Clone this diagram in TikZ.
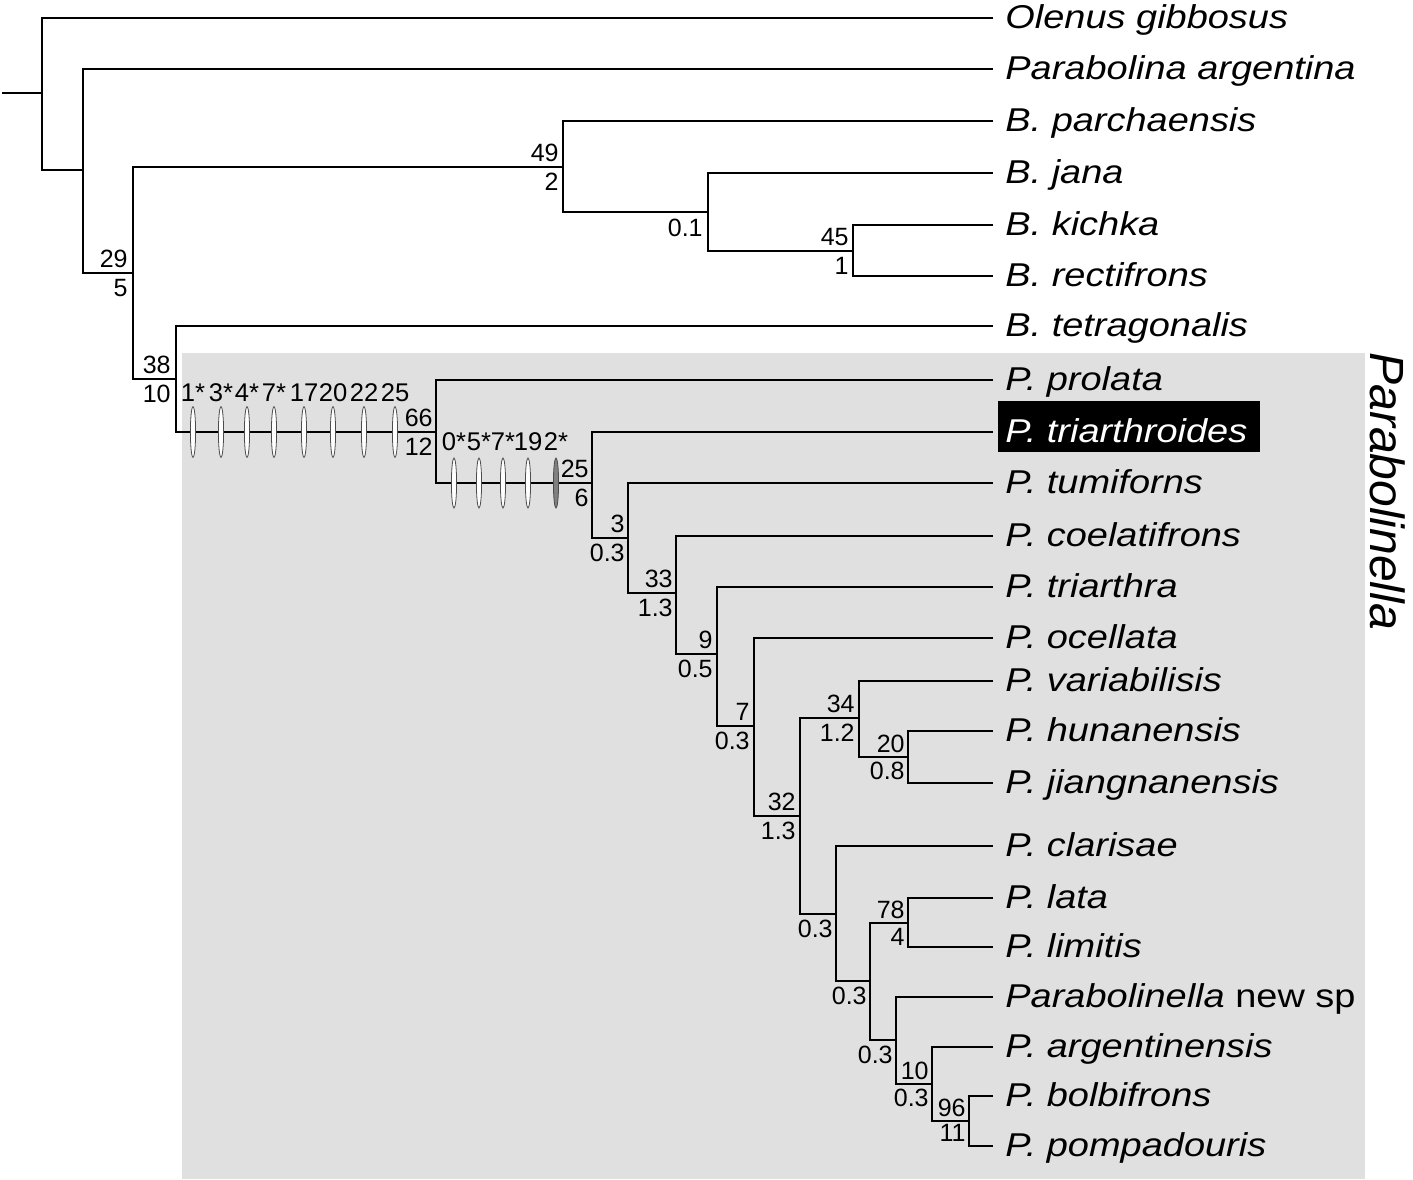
\documentclass[tikz,border=0pt]{standalone}
\usepackage{fontspec}
\setmainfont{Liberation Sans}
\newfontfamily\taxfont[FakeStretch=1.15]{Liberation Sans}
\usetikzlibrary{calc}

\definecolor{cladegray}{RGB}{224,224,224}
\tikzset{
  branch/.style={line width=1pt},
  taxon/.style={anchor=base west, inner sep=0pt, font=\taxfont\fontsize{16.5}{19}\selectfont\itshape},
  supa/.style={anchor=south east, inner sep=0pt, font=\fontsize{12.5}{14}\selectfont},
  supb/.style={anchor=north east, inner sep=0pt, font=\fontsize{12.5}{14}\selectfont},
  charmark/.style={draw=black!70, line width=0.4pt, fill=white},
  charlab/.style={anchor=base, inner sep=0pt, font=\fontsize{12.8}{14}\selectfont},
}

\begin{document}
\begin{tikzpicture}[x=0.5pt,y=-0.5pt]
	\useasboundingbox (0,0) rectangle (1413,1179);
	
	% Parabolinella clade box
	\fill[cladegray] (182,353) rectangle (1365,1179);
	\node[rotate=-90, anchor=base west, inner sep=0pt, font=\fontsize{24}{28}\selectfont\itshape] (clade) at (1370,352) {Parabolinella};
	
	% Internal nodes
	\coordinate (base) at (2,93);
	\coordinate (root) at (42,93);
	\coordinate (nA) at (83,170);
	\coordinate (nB) at (133,273);
	\coordinate (nC) at (563,167);
	\coordinate (nE) at (708,212);
	\coordinate (nF) at (853,251);
	\coordinate (nD) at (176,379);
	\coordinate (nG) at (436,432);
	\coordinate (nH) at (592,483);
	\coordinate (nI) at (628,538);
	\coordinate (nJ) at (676,593);
	\coordinate (nK) at (717,654);
	\coordinate (nL) at (754,726);
	\coordinate (nM) at (800,816);
	\coordinate (nN) at (859,718);
	\coordinate (nO) at (908,757);
	\coordinate (nP) at (836,914);
	\coordinate (nQ) at (870,981);
	\coordinate (nR) at (908,923);
	\coordinate (nS) at (896,1040);
	\coordinate (nT) at (932,1084);
	\coordinate (nU) at (969,1121);
	
	% Tips
	\coordinate (olenus) at (993,18);
	\coordinate (parabolina) at (993,69);
	\coordinate (parchaensis) at (993,121);
	\coordinate (jana) at (993,173);
	\coordinate (kichka) at (993,225);
	\coordinate (rectifrons) at (993,276);
	\coordinate (tetragonalis) at (993,326);
	\coordinate (prolata) at (993,380);
	\coordinate (triarthroides) at (993,432);
	\coordinate (tumiforns) at (993,483);
	\coordinate (coelatifrons) at (993,536);
	\coordinate (triarthra) at (993,587);
	\coordinate (ocellata) at (993,638);
	\coordinate (variabilisis) at (993,681);
	\coordinate (hunanensis) at (993,731);
	\coordinate (jiangnanensis) at (993,783);
	\coordinate (clarisae) at (993,846);
	\coordinate (lata) at (993,898);
	\coordinate (limitis) at (993,947);
	\coordinate (newsp) at (993,997);
	\coordinate (argentinensis) at (993,1047);
	\coordinate (bolbifrons) at (993,1096);
	\coordinate (pompadouris) at (993,1146);
	
	% Taxon names
	\node[taxon] (olenus-l) at (1005,28) {Olenus gibbosus};
	\node[taxon] (parabolina-l) at (1005,79) {Parabolina argentina};
	\node[taxon] (parchaensis-l) at (1005,131) {B. parchaensis};
	\node[taxon] (jana-l) at (1005,183) {B. jana};
	\node[taxon] (kichka-l) at (1005,235) {B. kichka};
	\node[taxon] (rectifrons-l) at (1005,286) {B. rectifrons};
	\node[taxon] (tetragonalis-l) at (1005,336) {B. tetragonalis};
	\node[taxon] (prolata-l) at (1005,390) {P. prolata};
	\node[taxon, fill=black, text=white, inner xsep=3.5pt, inner ysep=0pt, text height=20.5pt, text depth=5pt] (triarthroides-l) at (998,442) {P. triarthroides\kern3pt};
	\node[taxon] (tumiforns-l) at (1005,493) {P. tumiforns};
	\node[taxon] (coelatifrons-l) at (1005,546) {P. coelatifrons};
	\node[taxon] (triarthra-l) at (1005,597) {P. triarthra};
	\node[taxon] (ocellata-l) at (1005,648) {P. ocellata};
	\node[taxon] (variabilisis-l) at (1005,691) {P. variabilisis};
	\node[taxon] (hunanensis-l) at (1005,741) {P. hunanensis};
	\node[taxon] (jiangnanensis-l) at (1005,793) {P. jiangnanensis};
	\node[taxon] (clarisae-l) at (1005,856) {P. clarisae};
	\node[taxon] (lata-l) at (1005,908) {P. lata};
	\node[taxon] (limitis-l) at (1005,957) {P. limitis};
	\node[taxon] (newsp-l) at (1005,1007) {Parabolinella\upshape{} new sp};
	\node[taxon] (argentinensis-l) at (1005,1057) {P. argentinensis};
	\node[taxon] (bolbifrons-l) at (1005,1106) {P. bolbifrons};
	\node[taxon] (pompadouris-l) at (1005,1156) {P. pompadouris};
	
	% Branches
	\draw[branch] (base) -- (root);
	\draw[branch] (olenus) -| (root) |- (nA);
	\draw[branch] (parabolina) -| (nA) |- (nB);
	\draw[branch] (nC) -| (nB) |- (nD);
	\draw[branch] (parchaensis) -| (nC) |- (nE);
	\draw[branch] (jana) -| (nE) |- (nF);
	\draw[branch] (kichka) -| (nF) |- (rectifrons);
	\draw[branch] (tetragonalis) -| (nD) |- (nG);
	\draw[branch] (prolata) -| (nG) |- (nH);
	\draw[branch] (triarthroides) -| (nH) |- (nI);
	\draw[branch] (tumiforns) -| (nI) |- (nJ);
	\draw[branch] (coelatifrons) -| (nJ) |- (nK);
	\draw[branch] (triarthra) -| (nK) |- (nL);
	\draw[branch] (ocellata) -| (nL) |- (nM);
	\draw[branch] (nN) -| (nM) |- (nP);
	\draw[branch] (variabilisis) -| (nN) |- (nO);
	\draw[branch] (hunanensis) -| (nO) |- (jiangnanensis);
	\draw[branch] (clarisae) -| (nP) |- (nQ);
	\draw[branch] (nR) -| (nQ) |- (nS);
	\draw[branch] (lata) -| (nR) |- (limitis);
	\draw[branch] (newsp) -| (nS) |- (nT);
	\draw[branch] (argentinensis) -| (nT) |- (nU);
	\draw[branch] (bolbifrons) -| (nU) |- (pompadouris);
	
	% Support values
	\node[supa] (nB-a) at ($(nB)+(-5,-5)$) {29};
	\node[supb] (nB-b) at ($(nB)+(-5,6)$) {5};
	\node[supa] (nD-a) at ($(nD)+(-5,-5)$) {38};
	\node[supb] (nD-b) at ($(nD)+(-5,6)$) {10};
	\node[supa] (nC-a) at ($(nC)+(-4,-5)$) {49};
	\node[supb] (nC-b) at ($(nC)+(-4,6)$) {2};
	\node[supb] (nE-b) at ($(nE)+(-5,7)$) {0.1};
	\node[supa] (nF-a) at ($(nF)+(-4,-5)$) {45};
	\node[supb] (nF-b) at ($(nF)+(-4,6)$) {1};
	\node[supa] (nG-a) at ($(nG)+(-3,-5)$) {66};
	\node[supb] (nG-b) at ($(nG)+(-3,6)$) {12};
	\node[supa] (nH-a) at ($(nH)+(-3,-5)$) {25};
	\node[supb] (nH-b) at ($(nH)+(-3,6)$) {6};
	\node[supa] (nI-a) at ($(nI)+(-3,-5)$) {3};
	\node[supb] (nI-b) at ($(nI)+(-3,6)$) {0.3};
	\node[supa] (nJ-a) at ($(nJ)+(-3,-5)$) {33};
	\node[supb] (nJ-b) at ($(nJ)+(-3,6)$) {1.3};
	\node[supa] (nK-a) at ($(nK)+(-4,-5)$) {9};
	\node[supb] (nK-b) at ($(nK)+(-4,6)$) {0.5};
	\node[supa] (nL-a) at ($(nL)+(-4,-5)$) {7};
	\node[supb] (nL-b) at ($(nL)+(-4,6)$) {0.3};
	\node[supa] (nM-a) at ($(nM)+(-4,-5)$) {32};
	\node[supb] (nM-b) at ($(nM)+(-4,6)$) {1.3};
	\node[supa] (nN-a) at ($(nN)+(-4,-5)$) {34};
	\node[supb] (nN-b) at ($(nN)+(-4,6)$) {1.2};
	\node[supa] (nO-a) at ($(nO)+(-3,-4)$) {20};
	\node[supb] (nO-b) at ($(nO)+(-3,5)$) {0.8};
	\node[supb] (nP-b) at ($(nP)+(-3,6)$) {0.3};
	\node[supa] (nR-a) at ($(nR)+(-3,-4)$) {78};
	\node[supb] (nR-b) at ($(nR)+(-3,5)$) {4};
	\node[supb] (nQ-b) at ($(nQ)+(-3,6)$) {0.3};
	\node[supb] (nS-b) at ($(nS)+(-3,6)$) {0.3};
	\node[supa] (nT-a) at ($(nT)+(-3,-4)$) {10};
	\node[supb] (nT-b) at ($(nT)+(-3,5)$) {0.3};
	\node[supa] (nU-a) at ($(nU)+(-3,-4)$) {96};
	\node[supb] (nU-b) at ($(nU)+(-3,3)$) {11};
	
	% Character changes on the Parabolinella stem
	\foreach \x/\c in {193/1*,221/3*,247/4*,274/7*,304/17,333/20,364/22,395/25}{
		\draw[charmark] (\x,432) ellipse [x radius=1.3pt, y radius=12.7pt];
		\node[charlab] (ch\x) at (\x,401) {\c};
	}
	% Character changes above P. triarthroides
	\foreach \x/\c in {454/0*,479/5*,503/7*,528/19}{
		\draw[charmark] (\x,483) ellipse [x radius=1.3pt, y radius=12.5pt];
		\node[charlab] (ci\x) at (\x,450) {\c};
	}
	\draw[charmark, fill=black!50] (556,483) ellipse [x radius=1.3pt, y radius=12.5pt];
	\node[charlab] (ci556) at (556,450) {2*};
	
\end{tikzpicture}
\end{document}
